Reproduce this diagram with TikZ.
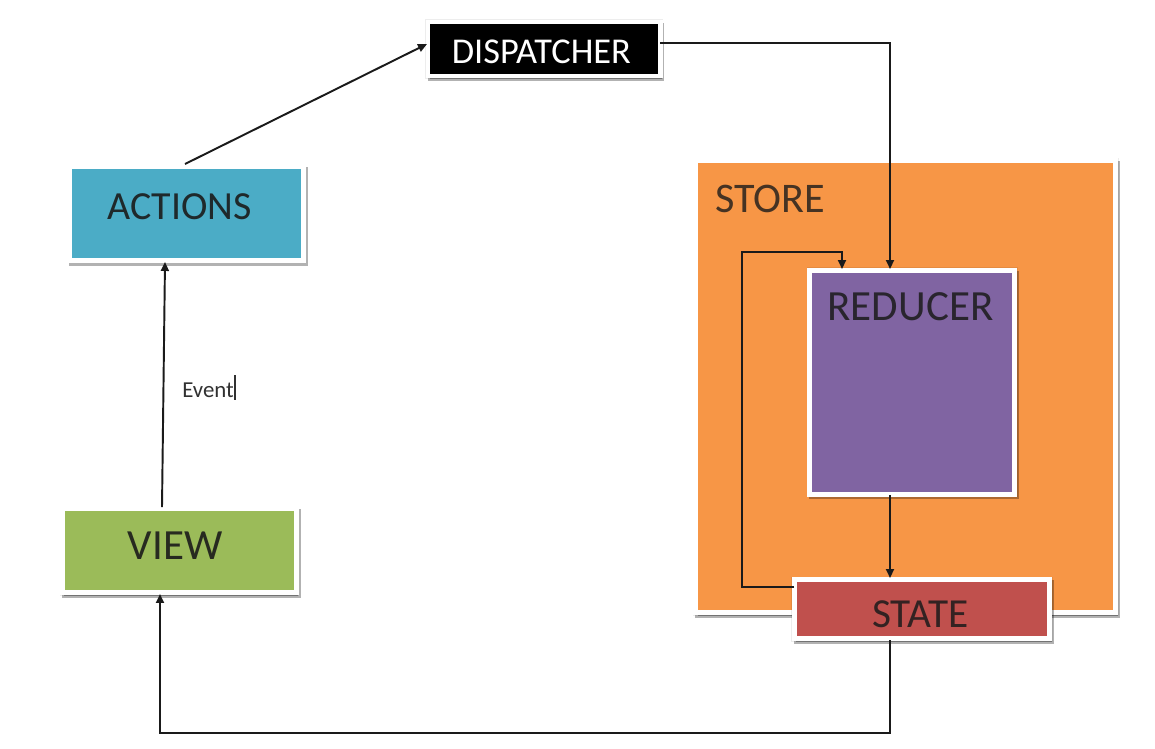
\documentclass[tikz,border=0pt]{standalone}
\usepackage{fontspec}
\setmainfont{Carlito}
\usetikzlibrary{arrows.meta,shadows,calc}

\definecolor{actblue}{HTML}{4BACC6}
\definecolor{viewgreen}{HTML}{9BBB59}
\definecolor{storeorange}{HTML}{F79646}
\definecolor{redpurple}{HTML}{8064A2}
\definecolor{statered}{HTML}{C0504D}
\definecolor{inkdark}{HTML}{1A1A1A}

% move the ink of a label without changing its box
\newcommand{\nudge}[2]{\raisebox{#1}[\height][\depth]{#2}}

\tikzset{
  x=0.02cm, y=-0.02cm,
  card/.style={draw=white, line width=5*0.567pt, inner sep=0pt,
    general shadow={fill=black, draw=black, line width=6*0.567pt,
      opacity=0.07},
    general shadow={shadow xshift=2*0.567pt, shadow yshift=-3*0.567pt,
      fill=black, draw=black, line width=5*0.567pt, opacity=0.3}},
  wire/.style={draw=inkdark, line width=1.1pt,
    -{Triangle[length=9*0.567pt, width=8*0.567pt]}},
}

\begin{document}
\begin{tikzpicture}
\useasboundingbox[fill=white] (0,0) rectangle (1155,748);

% store container and its inner parts
\node[card, fill=storeorange, minimum width=420*0.02cm, minimum height=452*0.02cm]
  (store) at (905.5,386.5) {};
\node[anchor=base west, font=\fontsize{24pt}{28pt}\selectfont, text=inkdark!80!storeorange, inner sep=0pt]
  (storelbl) at (715,212) {STORE};
\node[card, fill=redpurple, minimum width=205*0.02cm, minimum height=224*0.02cm]
  (reducer) at (912,382) {};
\node[anchor=base, font=\fontsize{24.5pt}{28pt}\selectfont, text=inkdark!85!redpurple, inner sep=0pt]
  (reducerlbl) at (910.5,320) {REDUCER};
\node[card, fill=statered, minimum width=255.5*0.02cm, minimum height=59*0.02cm,
      font=\fontsize{23.5pt}{27pt}\selectfont, text=inkdark!85!statered]
  (state) at (921.75,609) {\nudge{-3pt}{STATE}\kern1.5pt};

% left column and dispatcher
\node[card, fill=black, minimum width=232*0.02cm, minimum height=54*0.02cm,
      font=\fontsize{20.7pt}{24pt}\selectfont, text=white]
  (dispatcher) at (544,49) {\nudge{-1.5pt}{DISPATCHER}\kern3pt};
\node[card, fill=actblue, minimum width=234*0.02cm, minimum height=94*0.02cm,
      font=\fontsize{22.7pt}{26pt}\selectfont, text=inkdark!90!actblue]
  (actions) at (186.5,213.5) {\nudge{4pt}{ACTIONS}\kern8pt};
\node[card, fill=viewgreen, minimum width=234*0.02cm, minimum height=84*0.02cm,
      font=\fontsize{24.5pt}{28pt}\selectfont, text=inkdark!90!viewgreen]
  (view) at (179.5,550.5) {\nudge{3pt}{VIEW}\kern5pt};

% connection points
\coordinate (actOut) at (185,164);
\coordinate (dispIn) at (427,44);
\coordinate (dispOut) at (660,43);
\coordinate (redTop) at (890,269);
\coordinate (loopIn) at (842,269);
\coordinate (stateLeft) at (794,587);
\coordinate (stateTop) at (890,578);
\coordinate (redBot) at (890,495);
\coordinate (stateBot) at (890,640);
\coordinate (viewBot) at (160,594);
\coordinate (viewTop) at (162,507);
\coordinate (actIn) at (165,262);

% connectors
\draw[wire] (actOut) -- (dispIn);
\draw[wire] (dispOut) -| (redTop);
\draw[wire] (stateLeft) -- (742,587) -- (742,252) -| (loopIn);
\draw[wire] (redBot) -- (stateTop);
\draw[wire] (stateBot) -- (890,733) -| (viewBot);
\draw[wire] (viewTop) -- (actIn);

% event label with its text cursor
\node[anchor=base west, font=\fontsize{13pt}{15pt}\selectfont, text=inkdark!90, inner sep=0pt]
  (event) at (182,397) {Event\rule[-1.5pt]{1.2pt}{14pt}};
\end{tikzpicture}
\end{document}
